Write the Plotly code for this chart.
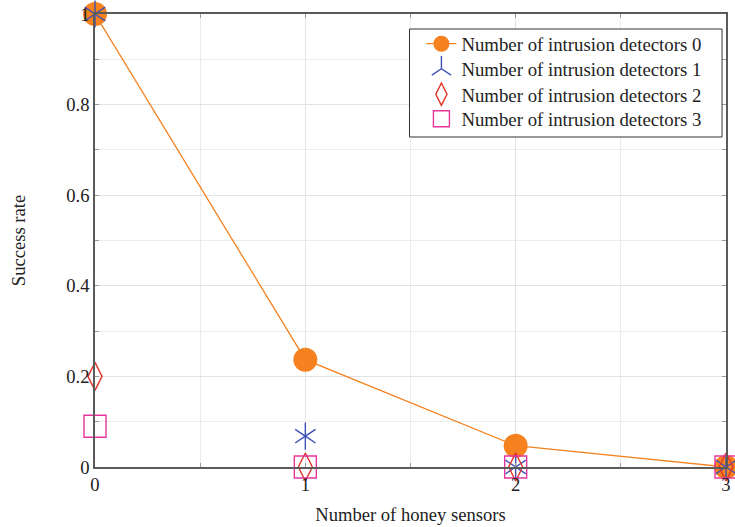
import plotly.graph_objects as go

# Number of honey sensors (x) and success rate per intrusion-detector count
honey_sensors = [0, 1, 2, 3]
detectors_0 = [1.0, 0.237, 0.047, 0.0]
detectors_1 = [1.0, 0.068, 0.0, 0.0]
detectors_2 = [0.2, 0.0, 0.0, 0.0]
detectors_3 = [0.09, 0.0, 0.0, 0.0]

ORANGE = "#F5821F"
BLUE = "#3F51B5"
RED = "#E2342B"
MAGENTA = "#E6359B"
FONT = "Liberation Serif, Times New Roman, serif"
TEXT = "#222"

fig = go.Figure()

fig.add_trace(go.Scatter(
    x=honey_sensors, y=detectors_0, mode="lines+markers",
    name="Number of intrusion detectors 0", legend="legend",
    line=dict(color=ORANGE, width=1.3),
    marker=dict(symbol="circle", size=24, color=ORANGE),
    cliponaxis=False,
))
# six-armed star built from two overlapping three-armed markers
fig.add_trace(go.Scatter(
    x=honey_sensors, y=detectors_1, mode="markers",
    name="Number of intrusion detectors 1", legend="legend2", legendgroup="d1",
    marker=dict(symbol="y-up-open", size=17, color=BLUE, line=dict(color=BLUE, width=1.4)),
    cliponaxis=False,
))
fig.add_trace(go.Scatter(
    x=honey_sensors, y=detectors_1, mode="markers",
    name="Number of intrusion detectors 1", legend="legend2", legendgroup="d1",
    showlegend=False,
    marker=dict(symbol="y-down-open", size=17, color=BLUE, line=dict(color=BLUE, width=1.4)),
    cliponaxis=False,
))
fig.add_trace(go.Scatter(
    x=honey_sensors, y=detectors_2, mode="markers",
    name="Number of intrusion detectors 2", legend="legend3",
    marker=dict(symbol="diamond-tall-open", size=20, color=RED, line=dict(color=RED, width=1.4)),
    cliponaxis=False,
))
fig.add_trace(go.Scatter(
    x=honey_sensors, y=detectors_3, mode="markers",
    name="Number of intrusion detectors 3", legend="legend4",
    marker=dict(symbol="square-open", size=22, color=MAGENTA, line=dict(color=MAGENTA, width=1.4)),
    cliponaxis=False,
))

axis_common = dict(
    showline=True, linecolor="#5a5a5a", linewidth=1.5, mirror="ticks",
    showgrid=True, gridcolor="#e2e2e2", gridwidth=1,
    ticks="inside", ticklen=4, tickcolor="#9a9a9a",
    tickfont=dict(family=FONT, size=18.6, color=TEXT),
    zeroline=False,
)

fig.update_xaxes(
    range=[0, 3], dtick=1, tick0=0,
    minor=dict(dtick=0.5, showgrid=True, gridcolor="#ececec",
               ticks="inside", ticklen=4, tickcolor="#9a9a9a"),
    title=dict(text="Number of honey sensors", font=dict(family=FONT, size=18.6, color=TEXT),
               standoff=14),
    **axis_common,
)
fig.update_yaxes(
    range=[0, 1], dtick=0.2, tick0=0,
    minor=dict(dtick=0.1, showgrid=True, gridcolor="#ececec",
               ticks="inside", ticklen=4, tickcolor="#9a9a9a"),
    title=dict(text="Success rate", font=dict(family=FONT, size=18.6, color=TEXT),
               standoff=36),
    **axis_common,
)

# legend frame (white box with dark border), drawn in paper coordinates
L, T, W, H = 95, 14, 636, 453
box_x0, box_x1, box_y0, box_y1 = 412, 727, 29, 137
fig.add_shape(
    type="rect", xref="paper", yref="paper", layer="above",
    x0=(box_x0 - L) / W, x1=(box_x1 - L) / W,
    y0=1 - (box_y1 - T) / H, y1=1 - (box_y0 - T) / H,
    fillcolor="white", line=dict(color="#333", width=1),
)

# one legend per row so the rows sit at the frame's spacing
row_centres = [44, 69, 94.5, 119]
legend_style = dict(
    xanchor="left", yanchor="middle",
    bgcolor="rgba(0,0,0,0)", borderwidth=0,
    font=dict(family=FONT, size=18.8, color=TEXT),
)
legends = {}
for i, yc in enumerate(row_centres):
    key = "legend" if i == 0 else f"legend{i + 1}"
    legends[key] = dict(x=(424 - L) / W, y=1 - (yc - T) / H, **legend_style)

fig.update_layout(
    width=735, height=527,
    margin=dict(l=L, r=4, t=T, b=60),
    paper_bgcolor="white", plot_bgcolor="white",
    font=dict(family=FONT, size=18.6, color=TEXT),
    showlegend=True,
    **legends,
)

fig.write_html("out.html")
